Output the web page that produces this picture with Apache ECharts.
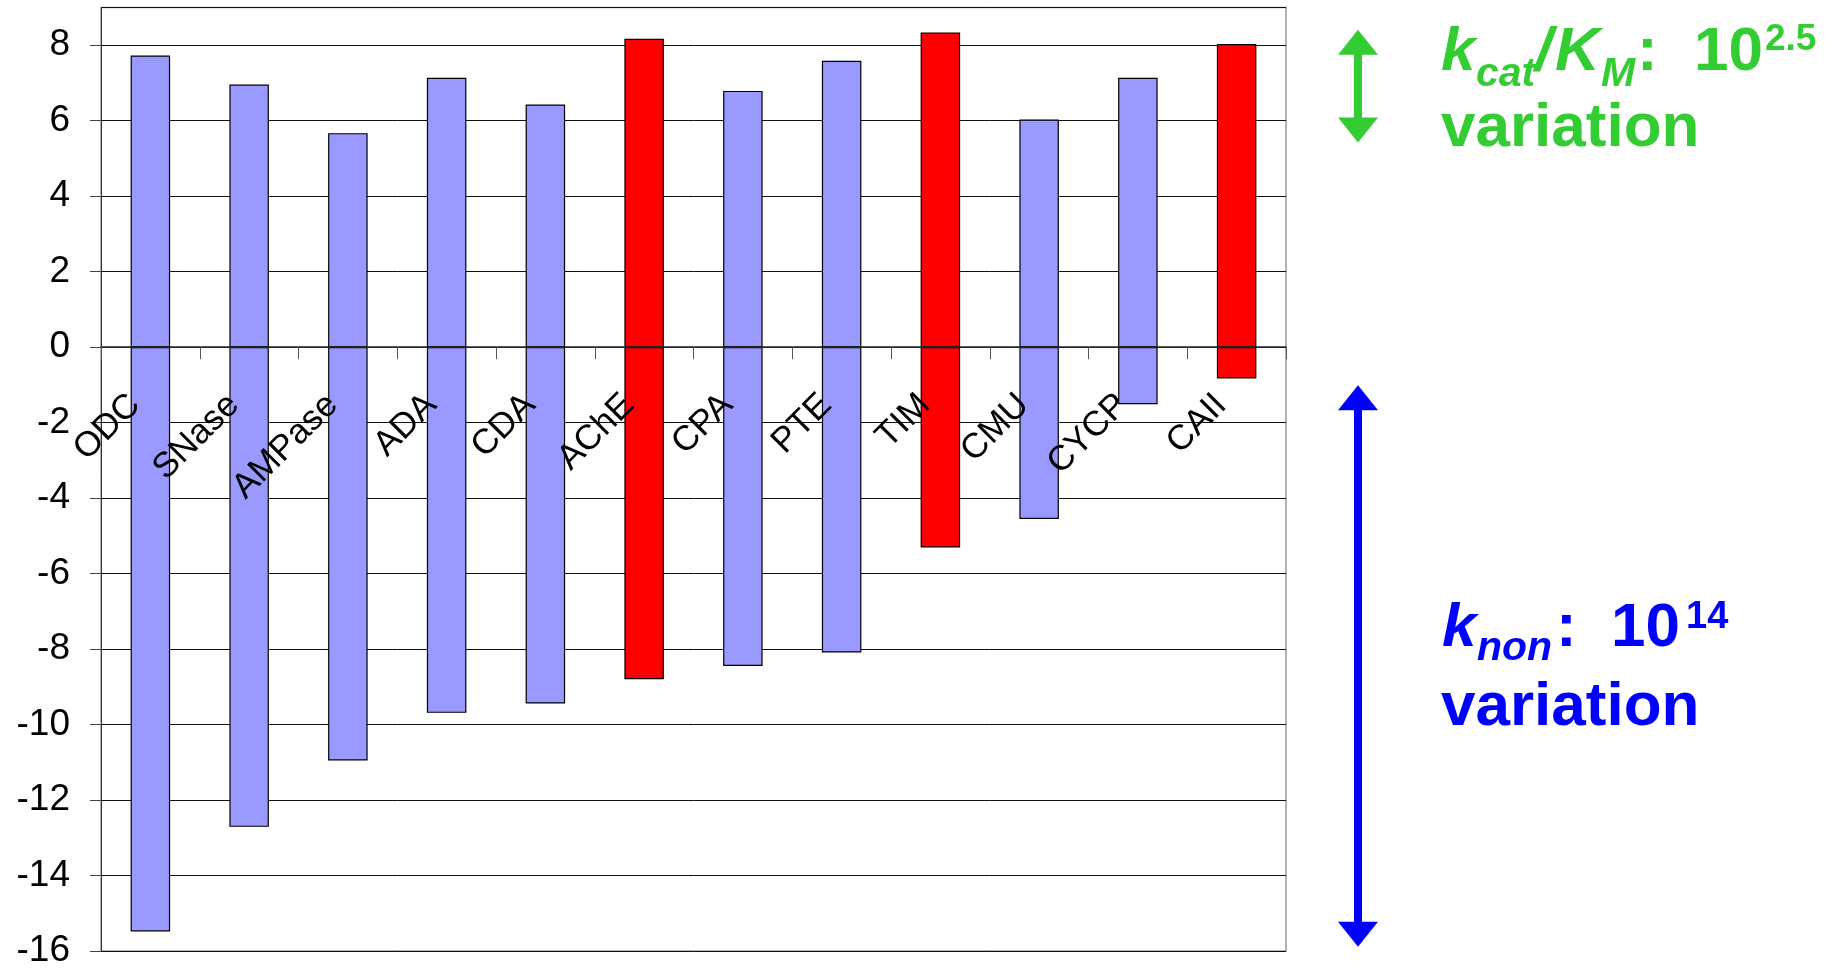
<!DOCTYPE html>
<html>
<head>
<meta charset="utf-8">
<title>Enzyme rate enhancement</title>
<script src="https://cdn.jsdelivr.net/npm/echarts@6/dist/echarts.min.js"></script>
<style>
  html, body { margin: 0; padding: 0; background: #ffffff; }
  #chart { width: 1831px; height: 969px; }
</style>
</head>
<body>
<div id="chart"></div>
<script>
// Enzymes along the category axis
const categories = ['ODC', 'SNase', 'AMPase', 'ADA', 'CDA', 'AChE', 'CPA', 'PTE', 'TIM', 'CMU', 'CYCP', 'CAII'];
// log10 (kcat/KM), drawn above zero
const logKcatKm = [7.73, 6.96, 5.67, 7.14, 6.43, 8.17, 6.79, 7.59, 8.34, 6.03, 7.14, 8.03];
// log10 knon, drawn below zero
const logKnon = [-15.48, -12.71, -10.95, -9.69, -9.44, -8.80, -8.45, -8.09, -5.31, -4.55, -1.51, -0.83];
// Enzymes shown in red
const highlighted = ['AChE', 'TIM', 'CAII'];
// Value axis range and tick step
const yMin = -16;
const yMax = 9;
const yStep = 2;
// Value ranges covered by the two double-headed arrows
const kcatSpan = [8.41, 5.42];
const knonSpan = [-1.01, -15.89];

const FONT = "'Liberation Sans', Arial, Helvetica, sans-serif";
const BLUEBAR = '#9999ff';
const REDBAR = '#ff0000';
const GREEN = '#33cc33';
const BLUE = '#0000ff';

const chart = echarts.init(document.getElementById('chart'), null, { renderer: 'canvas' });

function barColor(p) {
  return highlighted.indexOf(categories[p.dataIndex]) >= 0 ? REDBAR : BLUEBAR;
}

const barStyle = {
  color: barColor,
  borderColor: '#000000',
  borderWidth: 1.2
};

chart.setOption({
  animation: false,
  backgroundColor: '#ffffff',
  grid: {
    left: 101,
    right: 545,
    top: 7.5,
    bottom: 18,
    outerBoundsMode: 'none',
    containLabel: false,
    show: true,
    borderColor: '#9a9a9a',
    borderWidth: 1.5,
    backgroundColor: 'transparent'
  },
  xAxis: {
    type: 'category',
    data: categories,
    boundaryGap: true,
    position: 'bottom',
    offset: 0,
    z: 5,
    axisLine: { onZero: false, lineStyle: { color: '#2a2a2a', width: 1.5 } },
    axisTick: { show: true, inside: false, length: 12, interval: 0, lineStyle: { color: '#555555', width: 1 } },
    axisLabel: {
      interval: 0,
      rotate: 45,
      margin: 37,
      padding: [0, 22, 0, 0],
      hideOverlap: false,
      color: '#000000',
      fontFamily: FONT,
      fontSize: 35
    },
    splitLine: { show: false }
  },
  yAxis: {
    type: 'value',
    min: yMin,
    max: yMax,
    interval: yStep,
    axisLine: { show: true, onZero: false, lineStyle: { color: '#333333', width: 1 } },
    axisTick: { show: true, inside: false, length: 11, lineStyle: { color: '#444444', width: 1 } },
    axisLabel: {
      margin: 31,
      color: '#000000',
      fontFamily: FONT,
      fontSize: 37,
      showMaxLabel: false
    },
    splitLine: { show: true, lineStyle: { color: '#111111', width: 1 } }
  },
  series: [
    {
      name: 'log kcat/KM',
      type: 'bar',
      stack: 'range',
      barWidth: '40%',
      data: logKcatKm,
      itemStyle: barStyle
    },
    {
      name: 'log knon',
      type: 'bar',
      stack: 'range',
      barWidth: '40%',
      data: logKnon,
      itemStyle: barStyle
    }
  ]
});

const toY = v => chart.convertToPixel({ yAxisIndex: 0 }, v);

// Carry the category axis (line, ticks, labels) up to the zero level
chart.setOption({ xAxis: { offset: toY(0) - toY(yMin) } });

// Double-headed arrow polygon spanning two pixel rows
function arrowPoints(cx, yTop, yBot) {
  const shaft = 4, head = 20, len = 25;
  return [
    [cx, yTop], [cx + head, yTop + len], [cx + shaft, yTop + len],
    [cx + shaft, yBot - len], [cx + head, yBot - len], [cx, yBot],
    [cx - head, yBot - len], [cx - shaft, yBot - len], [cx - shaft, yTop + len],
    [cx - head, yTop + len]
  ];
}

function txt(text, x, y, color, size, italic) {
  return {
    type: 'text',
    x: x,
    y: y,
    z: 10,
    style: {
      text: text,
      fill: color,
      fontFamily: FONT,
      fontSize: size,
      fontWeight: 'bold',
      fontStyle: italic ? 'italic' : 'normal',
      align: 'left',
      verticalAlign: 'middle'
    }
  };
}

const arrowX = 1358;

chart.setOption({
  graphic: [
    {
      type: 'polygon',
      shape: { points: arrowPoints(arrowX, toY(kcatSpan[0]), toY(kcatSpan[1])) },
      style: { fill: GREEN }
    },
    {
      type: 'polygon',
      shape: { points: arrowPoints(arrowX, toY(knonSpan[0]), toY(knonSpan[1])) },
      style: { fill: BLUE }
    },
    // kcat/KM : 10^2.5 variation
    txt('k', 1441, 52.5, GREEN, 62, true),
    txt('cat', 1476, 74.5, GREEN, 41, true),
    txt('/', 1535, 52.5, GREEN, 62, true),
    txt('K', 1555, 52.5, GREEN, 62, true),
    txt('M', 1601, 74.5, GREEN, 41, true),
    txt(':', 1637, 52.5, GREEN, 62, false),
    txt('10', 1694, 52.5, GREEN, 62, false),
    txt('2.5', 1765, 40, GREEN, 37, false),
    txt('variation', 1441, 129, GREEN, 62, false),
    // knon : 10^14 variation
    txt('k', 1442, 629, BLUE, 62, true),
    txt('non', 1477, 649, BLUE, 41, true),
    txt(':', 1556, 629, BLUE, 62, false),
    txt('10', 1611, 629, BLUE, 62, false),
    txt('14', 1686, 618, BLUE, 38, false),
    txt('variation', 1441, 707.5, BLUE, 62, false)
  ]
});
</script>
</body>
</html>
